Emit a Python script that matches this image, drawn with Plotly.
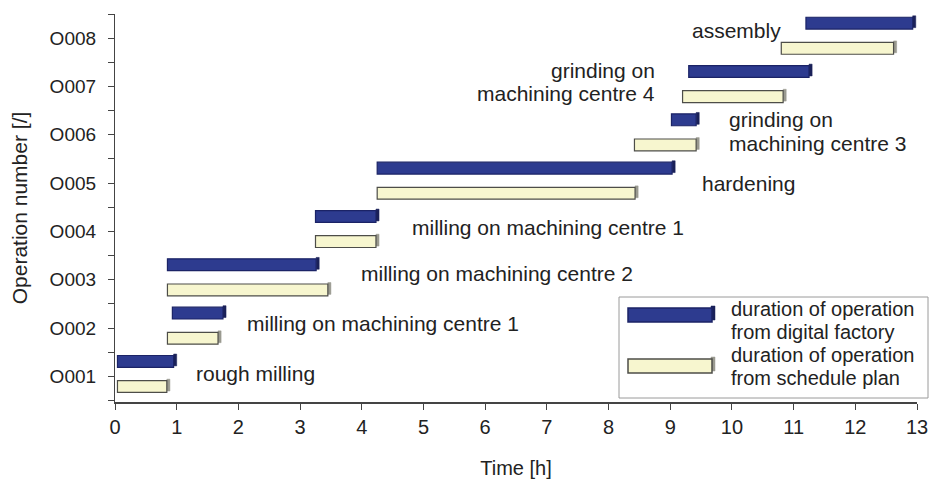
import plotly.graph_objects as go

# ---------------- data ----------------
operations = ["O001", "O002", "O003", "O004", "O005", "O006", "O007", "O008"]
op_pos = [1, 2, 3, 4, 5, 6, 7, 8]

digital_start = [0.04, 0.93, 0.85, 3.25, 4.25, 9.02, 9.30, 11.20]
digital_end = [0.95, 1.75, 3.26, 4.23, 9.03, 9.42, 11.25, 12.93]
schedule_start = [0.04, 0.85, 0.85, 3.25, 4.25, 8.42, 9.20, 10.80]
schedule_end = [0.84, 1.67, 3.45, 4.23, 8.43, 9.42, 10.83, 12.62]

x_ticks = list(range(0, 14))

series_names = ["duration of operation<br>from digital factory",
                "duration of operation<br>from schedule plan"]

op_labels = ["rough milling", "milling on machining centre 1",
             "milling on machining centre 2", "milling on machining centre 1",
             "hardening", "grinding on<br>machining centre 3",
             "grinding on<br>machining centre 4", "assembly"]

# ---------------- style ----------------
BLUE = "#2d3b8f"
BLUE_EDGE = "#1b2366"
BLUE_SIDE = "#1a2158"
YEL = "#f7f6cf"
YEL_EDGE = "#4d4d48"
YEL_SIDE = "#9a9a90"
TXT = "#222222"
FONT = "Liberation Sans, Arial, sans-serif"

W, H = 931, 482
ML, MR, MT, MB = 115, 14, 14, 80
BAR_W = 0.245
DEPTH = 0.05

fig = go.Figure()


def add_series(start, end, center_off, fill, edge, side):
    dur = [e - s for s, e in zip(start, end)]
    off = center_off - BAR_W / 2
    # 3D side face (drawn first, behind the front face)
    fig.add_trace(go.Bar(
        orientation="h", y=op_pos, x=[DEPTH] * len(end), base=end,
        width=BAR_W, offset=off + 0.03,
        marker=dict(color=side, line=dict(color=side, width=0.5)),
        showlegend=False, hoverinfo="skip"))
    fig.add_trace(go.Bar(
        orientation="h", y=op_pos, x=dur, base=start,
        width=BAR_W, offset=off,
        marker=dict(color=fill, line=dict(color=edge, width=1.2)),
        showlegend=False, hoverinfo="skip"))


add_series(digital_start, digital_end, 0.31, BLUE, BLUE_EDGE, BLUE_SIDE)
add_series(schedule_start, schedule_end, -0.21, YEL, YEL_EDGE, YEL_SIDE)

# ---------------- operation labels ----------------
ann = []


def lab(text, x, y, xanchor="left"):
    ann.append(dict(text=text, x=x, y=y, xref="x", yref="y", showarrow=False,
                    xanchor=xanchor, yanchor="middle",
                    font=dict(family=FONT, size=21, color=TXT)))


def lab2(text, x, y, xanchor="left"):
    top, bottom = text.split("<br>")
    lab(top, x, y + 0.24, xanchor)
    lab(bottom, x, y - 0.24, xanchor)


lab(op_labels[0], 1.28, 1.06)
lab(op_labels[1], 2.10, 2.10)
lab(op_labels[2], 3.95, 3.13)
lab(op_labels[3], 4.78, 4.09)
lab(op_labels[4], 9.48, 5.0)
lab2(op_labels[5], 9.92, 6.07)
lab2(op_labels[6], 8.78, 7.09, "right")
lab(op_labels[7], 10.83, 8.15, "right")

# ---------------- custom legend ----------------
PW = W - ML - MR
PH = H - MT - MB


def px(xp):
    return (xp - ML) / PW


def py(yp):
    return (H - MB - yp) / PH


shapes = [dict(type="rect", xref="paper", yref="paper",
               x0=px(619), x1=px(928), y0=py(398), y1=py(297),
               line=dict(color="#9a9a9a", width=1), fillcolor="white", layer="below")]
for (y0, y1, fill, edge, side) in [(322, 308, BLUE, BLUE_EDGE, BLUE_SIDE),
                                   (373, 359, YEL, YEL_EDGE, YEL_SIDE)]:
    shapes.append(dict(type="rect", xref="paper", yref="paper",
                       x0=px(711), x1=px(715), y0=py(y0 - 2), y1=py(y1 - 2),
                       line=dict(color=side, width=0.5), fillcolor=side))
    shapes.append(dict(type="rect", xref="paper", yref="paper",
                       x0=px(628), x1=px(712), y0=py(y0), y1=py(y1),
                       line=dict(color=edge, width=1.5), fillcolor=fill))

leg_lines = series_names[0].split("<br>") + series_names[1].split("<br>")
for text, yc in zip(leg_lines, [309, 332, 355, 378]):
    ann.append(dict(text=text, x=px(729), y=py(yc), xref="paper", yref="paper",
                    showarrow=False, xanchor="left", yanchor="middle",
                    font=dict(family=FONT, size=20, color=TXT)))

# y ticks every half unit, labels on integers
y_tickvals = []
y_ticktext = []
for p, name in zip(op_pos, operations):
    y_tickvals += [p - 0.5, p]
    y_ticktext += ["", name]
y_tickvals.append(op_pos[-1] + 0.5)
y_ticktext.append("")

fig.update_layout(
    width=W, height=H,
    margin=dict(l=ML, r=MR, t=MT, b=MB, autoexpand=False),
    paper_bgcolor="white", plot_bgcolor="white",
    barmode="overlay",
    showlegend=False,
    shapes=shapes,
    annotations=ann,
    xaxis=dict(range=[0, 13], tickvals=x_ticks, ticktext=[str(v) for v in x_ticks],
               automargin=False,
               showgrid=False, zeroline=False, showline=True, linecolor="#444", linewidth=1.5,
               ticks="outside", ticklen=6, tickcolor="#444", tickwidth=1.2,
               tickfont=dict(family=FONT, size=20, color=TXT), ticklabelstandoff=0,
               title=dict(text="Time [h]", font=dict(family=FONT, size=20, color=TXT), standoff=24)),
    yaxis=dict(range=[0.47, 8.5], tickvals=y_tickvals, ticktext=y_ticktext,
               automargin=False,
               showgrid=False, zeroline=False, showline=True, linecolor="#444", linewidth=1.2,
               ticks="outside", ticklen=6, tickcolor="#444", tickwidth=1.2,
               tickfont=dict(family=FONT, size=19, color=TXT), ticklabelstandoff=8,
               title=dict(text="Operation number [/]", font=dict(family=FONT, size=21, color=TXT), standoff=16)),
)

fig.write_html("out.html", config={"displayModeBar": False},
               post_script="document.body.style.margin='0';")
